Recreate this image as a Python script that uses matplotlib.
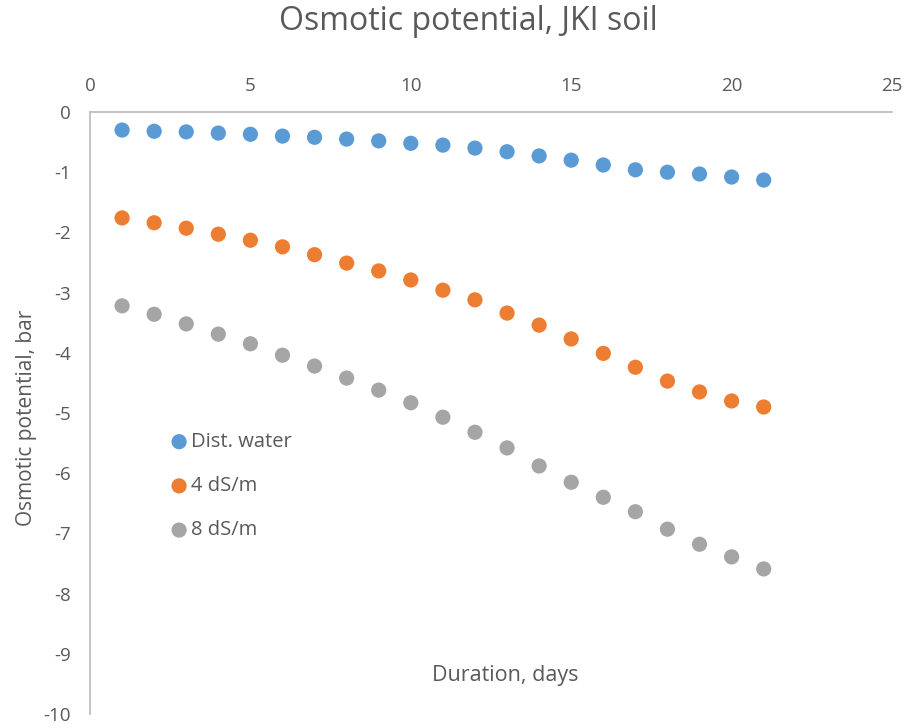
import matplotlib
matplotlib.use("Agg")
import matplotlib.pyplot as plt

days = list(range(1, 22))
dist_water = [-0.30, -0.32, -0.33, -0.35, -0.37, -0.40, -0.42, -0.45, -0.48, -0.52, -0.55,
              -0.60, -0.66, -0.73, -0.80, -0.88, -0.96, -1.00, -1.03, -1.08, -1.13]
ds4 = [-1.76, -1.84, -1.93, -2.03, -2.13, -2.24, -2.37, -2.51, -2.64, -2.79, -2.96,
       -3.12, -3.34, -3.54, -3.77, -4.01, -4.24, -4.47, -4.65, -4.80, -4.90]
ds8 = [-3.22, -3.36, -3.52, -3.69, -3.85, -4.04, -4.22, -4.42, -4.62, -4.83, -5.07,
       -5.32, -5.58, -5.88, -6.15, -6.40, -6.64, -6.93, -7.18, -7.39, -7.59]
labels = ["Dist. water", "4 dS/m", "8 dS/m"]
colors = ["#5B9BD5", "#ED7D31", "#A5A5A5"]

plt.rcParams['font.family'] = ['Open Sans', 'DejaVu Sans']
plt.rcParams['axes.unicode_minus'] = False
txt = "#595959"

fig = plt.figure(figsize=(9.07, 7.28), dpi=100)
ax = fig.add_axes([90/907, 14/728, 802/907, 602/728])

for ys, lab, c in zip([dist_water, ds4, ds8], labels, colors):
    ax.scatter(days, ys, s=120, color=c, edgecolors="none", label=lab, zorder=3)

ax.set_xlim(0, 25)
ax.set_ylim(-10, 0)
ax.set_xticks(range(0, 26, 5))
ax.set_yticks(range(-10, 1, 1))
ax.xaxis.tick_top()
ax.tick_params(axis="both", length=0, labelsize=13.5, colors=txt)
ax.tick_params(axis="x", pad=12)
ax.tick_params(axis="y", pad=14)
for s in ["bottom", "right"]:
    ax.spines[s].set_visible(False)
for s in ["top", "left"]:
    ax.spines[s].set_color("#BFBFBF")
    ax.spines[s].set_linewidth(1.3)

fig.suptitle("Osmotic potential, JKI soil", x=468/907, y=1-22/728, va="center",
             fontsize=23, color=txt)
fig.text(27/907, 1-418/728, "Osmotic potential, bar", rotation=90, ha="center", va="center",
         fontsize=15, color=txt)
fig.text(505/907, 1-676/728, "Duration, days", ha="center", va="center",
         fontsize=15.5, color=txt)

leg = ax.legend(loc="upper left", bbox_to_anchor=(167/907, 1-432/728), bbox_transform=fig.transFigure,
                frameon=False, fontsize=14.5, labelspacing=1.2, handletextpad=0.0,
                handlelength=1.2, borderpad=0, borderaxespad=0)
for t in leg.get_texts():
    t.set_color(txt)

fig.savefig("out.png", dpi=100)
